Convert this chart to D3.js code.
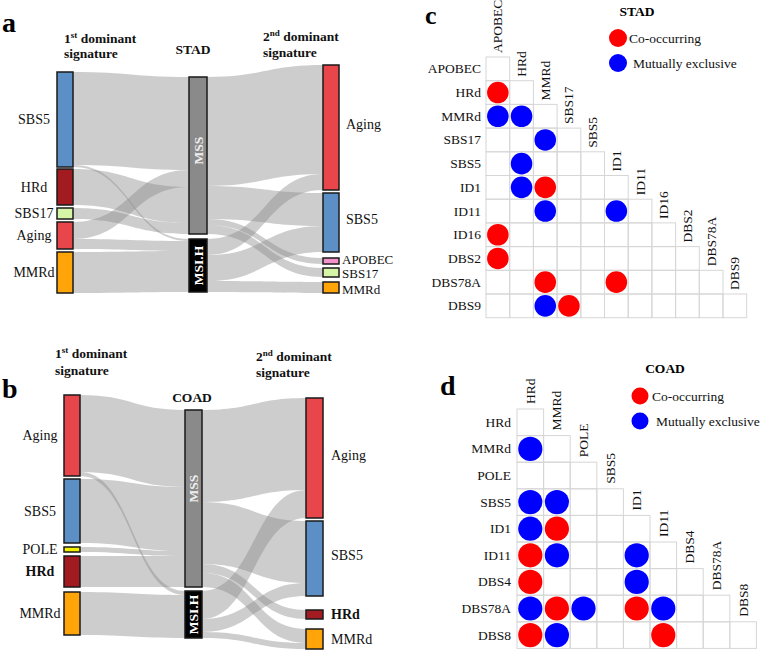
<!DOCTYPE html>
<html><head><meta charset="utf-8">
<script src="https://cdn.jsdelivr.net/npm/d3@7"></script>
<style>
html,body{margin:0;padding:0;background:#fff;overflow:hidden}
svg{display:block;font-family:"Liberation Serif","Times New Roman",Times,serif}
</style></head><body>
<svg id="fig" width="760" height="652"></svg>
<script>
// ================= DATA =================
// Panel a – STAD alluvial
const stadFirst  = ["SBS5","HRd","SBS17","Aging","MMRd"];
const stadStatus = ["MSS","MSI.H"];
const stadSecond = ["Aging","SBS5","APOBEC","SBS17","MMRd"];
// [source, target, samples]
const stadFlowsFirst = [
  ["SBS5","MSS",93],["Aging","MSS",17],["HRd","MSS",36],["SBS17","MSS",11],
  ["SBS5","MSI.H",2],["Aging","MSI.H",10],["MMRd","MSI.H",41]
];
const stadFlowsSecond = [
  ["MSS","Aging",109],["MSI.H","Aging",16],["MSS","SBS5",33],["MSI.H","SBS5",26],
  ["MSS","APOBEC",6],["MSS","SBS17",9],["MSI.H","MMRd",11]
];
// Panel b – COAD alluvial
const coadFirst  = ["Aging","SBS5","POLE","HRd","MMRd"];
const coadStatus = ["MSS","MSI.H"];
const coadSecond = ["Aging","SBS5","HRd","MMRd"];
const coadFlowsFirst = [
  ["Aging","MSS",77],["SBS5","MSS",64],["POLE","MSS",5],["HRd","MSS",31],
  ["Aging","MSI.H",4],["MMRd","MSI.H",43]
];
const coadFlowsSecond = [
  ["MSS","Aging",92],["MSI.H","Aging",28],["MSS","SBS5",62],["MSI.H","SBS5",13],
  ["MSS","HRd",9],["MSS","MMRd",14],["MSI.H","MMRd",6]
];
// Panel c – STAD co-occurrence
const stadSigs = ["APOBEC","HRd","MMRd","SBS17","SBS5","ID1","ID11","ID16","DBS2","DBS78A","DBS9"];
// [row, column, relation]
const stadPairs = [
  ["HRd","APOBEC","co"],
  ["MMRd","APOBEC","me"],["MMRd","HRd","me"],
  ["SBS17","MMRd","me"],
  ["SBS5","HRd","me"],
  ["ID1","HRd","me"],["ID1","MMRd","co"],
  ["ID11","MMRd","me"],["ID11","ID1","me"],
  ["ID16","APOBEC","co"],
  ["DBS2","APOBEC","co"],
  ["DBS78A","MMRd","co"],["DBS78A","ID1","co"],
  ["DBS9","MMRd","me"],["DBS9","SBS17","co"]
];
// Panel d – COAD co-occurrence
const coadSigs = ["HRd","MMRd","POLE","SBS5","ID1","ID11","DBS4","DBS78A","DBS8"];
const coadPairs = [
  ["MMRd","HRd","me"],
  ["SBS5","HRd","me"],["SBS5","MMRd","me"],
  ["ID1","HRd","me"],["ID1","MMRd","co"],
  ["ID11","HRd","co"],["ID11","MMRd","me"],["ID11","ID1","me"],
  ["DBS4","HRd","co"],["DBS4","ID1","me"],
  ["DBS78A","HRd","me"],["DBS78A","MMRd","co"],["DBS78A","POLE","me"],["DBS78A","ID1","co"],["DBS78A","ID11","me"],
  ["DBS8","HRd","co"],["DBS8","MMRd","me"],["DBS8","ID11","co"]
];
const legendLabels = {co:"Co-occurring", me:"Mutually exclusive"};

// ================= STYLE =================
const nodeColors = {SBS5:"#5b8fc6",HRd:"#a11b20",SBS17:"#d5f6a6",Aging:"#e8464b",
  MMRd:"#ffa50a",APOBEC:"#f292ca",POLE:"#f0f000",MSS:"#8a8a8a","MSI.H":"#000"};
const relColor = {co:"#ff0000", me:"#0000ff"};

const svg = d3.select("#fig");

function drawSankey(cols, flows, cfg){
  const g = svg.append("g");
  const ky = d3.scaleLinear().domain([0,1]).range([0,cfg.k]);
  const nodes = [], byId = new Map();
  cols.forEach((names,ci)=>names.forEach(n=>{
    const d={id:ci+":"+n,name:n,col:ci,inV:0,outV:0,ins:[],outs:[]};
    nodes.push(d); byId.set(d.id,d);
  }));
  const links=[];
  flows.forEach((fl,fi)=>fl.forEach(([s,t,v])=>{
    const S=byId.get(fi+":"+s), T=byId.get((fi+1)+":"+t);
    const L={S,T,v}; S.outs.push(L); T.ins.push(L); S.outV+=v; T.inV+=v; links.push(L);
  }));
  cols.forEach((names,ci)=>{
    const c=cfg.cols[ci]; let yy=c.top;
    names.forEach((n,i)=>{
      const d=byId.get(ci+":"+n);
      d.value=Math.max(d.inV,d.outV);
      d.x0=c.x; d.x1=c.x+c.w; d.y0=yy; d.y1=yy+ky(d.value);
      yy=d.y1+(c.gaps[i]||0);
    });
  });
  nodes.forEach(d=>{
    let o=d.y0; d.outs.forEach(L=>{L.sy0=o;o+=ky(L.v);L.sy1=o;});
    let q=d.y0; d.ins.forEach(L=>{L.ty0=q;q+=ky(L.v);L.ty1=q;});
  });
  const band=L=>{
    const x0=L.S.x1, x1=L.T.x0, xm=(x0+x1)/2;
    return `M${x0},${L.sy0}C${xm},${L.sy0} ${xm},${L.ty0} ${x1},${L.ty0}`+
      `L${x1},${L.ty1}C${xm},${L.ty1} ${xm},${L.sy1} ${x0},${L.sy1}Z`;
  };
  g.append("g").selectAll("path").data(links).join("path")
    .attr("d",band).attr("fill","#8a8a8a").attr("fill-opacity",0.43);
  g.append("g").selectAll("rect").data(nodes).join("rect")
    .attr("x",d=>d.x0).attr("y",d=>d.y0).attr("width",d=>d.x1-d.x0).attr("height",d=>d.y1-d.y0)
    .attr("fill",d=>nodeColors[d.name]).attr("stroke","#1a1a1a").attr("stroke-width",1.5);
  // labels
  const lab=g.append("g").attr("font-size",14).attr("fill","#111");
  lab.selectAll("text.l").data(nodes.filter(d=>d.col===0)).join("text")
    .attr("x",cfg.leftLabelX).attr("y",d=>(d.y0+d.y1)/2).attr("text-anchor","middle")
    .attr("dominant-baseline","central").attr("font-weight",d=>cfg.bold.includes(d.name)?"bold":null)
    .text(d=>d.name);
  lab.selectAll("text.r").data(nodes.filter(d=>d.col===2)).join("text")
    .attr("x",d=>d.x1+((d.y1-d.y0)>30?cfg.rightOffBig:cfg.rightOffSmall))
    .attr("y",d=>(d.y0+d.y1)/2+((d.y1-d.y0)>30?-3:(cfg.nudge[d.name]||0)))
    .attr("dominant-baseline","central")
    .attr("font-size",d=>(d.y1-d.y0)>30?14:cfg.smallFont)
    .attr("font-weight",d=>cfg.bold.includes(d.name)?"bold":null).text(d=>d.name);
  lab.selectAll("text.m").data(nodes.filter(d=>d.col===1)).join("text")
    .attr("transform",d=>`translate(${(d.x0+d.x1)/2},${(d.y0+d.y1)/2+(d.name==="MSS"?cfg.mssShift:0)}) rotate(-90)`)
    .attr("text-anchor","middle").attr("dominant-baseline","central").attr("font-weight","bold")
    .attr("font-size",13.5).attr("fill",d=>d.name==="MSS"?"#eeeeee":"#ffffff").text(d=>d.name);
  // headers
  const hd=g.append("g").attr("font-weight","bold").attr("font-size",13.5).attr("fill","#111");
  const two=(x,y1,y2,num,sup)=>{
    const t=hd.append("text").attr("x",x).attr("y",y1);
    t.append("tspan").text(num);
    t.append("tspan").attr("font-size",9).attr("dy",-5).text(sup);
    t.append("tspan").attr("dy",5).text(" dominant");
    hd.append("text").attr("x",x).attr("y",y2).text("signature");
  };
  two(cfg.h1.x,cfg.h1.y1,cfg.h1.y2,"1","st");
  two(cfg.h2.x,cfg.h2.y1,cfg.h2.y2,"2","nd");
  hd.append("text").attr("x",cfg.title.x).attr("y",cfg.title.y).attr("text-anchor","middle").text(cfg.title.text);
  svg.append("text").attr("x",cfg.letter.x).attr("y",cfg.letter.y).attr("font-size",cfg.letter.size)
    .attr("font-weight","bold").text(cfg.letter.t);
}

drawSankey([stadFirst,stadStatus,stadSecond],[stadFlowsFirst,stadFlowsSecond],{
  k:1,
  cols:[{x:57,w:16,top:72,gaps:[2,3,3,3]},{x:189,w:18,top:77,gaps:[5]},{x:323,w:16,top:65,gaps:[3,6,4,5]}],
  leftLabelX:34,rightOffBig:7,rightOffSmall:3,mssShift:-5,bold:[],smallFont:13,
  nudge:{APOBEC:-1.5,SBS17:1,MMRd:1.5},
  h1:{x:64,y1:43,y2:58},h2:{x:263,y1:41,y2:57},title:{x:193,y:54,text:"STAD"},
  letter:{x:2,y:32,t:"a",size:28}
});
drawSankey([coadFirst,coadStatus,coadSecond],[coadFlowsFirst,coadFlowsSecond],{
  k:1,
  cols:[{x:64,w:16,top:395,gaps:[3,4,4,5]},{x:185,w:17,top:410,gaps:[4]},{x:306,w:17,top:398,gaps:[3,14,10]}],
  leftLabelX:40,rightOffBig:8,rightOffSmall:8,mssShift:-10,bold:["HRd"],smallFont:14,nudge:{},
  h1:{x:55,y1:358,y2:375},h2:{x:256,y1:361,y2:377},title:{x:192,y:402,text:"COAD"},
  letter:{x:2,y:398,t:"b",size:28}
});

function drawMatrix(sigs,pairs,cfg){
  const g=svg.append("g");
  const n=sigs.length;
  const xs=d3.scaleBand().domain(sigs).range([cfg.x0,cfg.x0+n*cfg.cell]);
  const ys=d3.scaleBand().domain(sigs).range([cfg.y0,cfg.y0+n*cfg.cell]);
  const cells=[];
  sigs.forEach((r,i)=>sigs.forEach((c,j)=>{if(j<=i)cells.push({r,c});}));
  g.append("g").selectAll("rect").data(cells).join("rect")
    .attr("x",d=>xs(d.c)).attr("y",d=>ys(d.r)).attr("width",xs.bandwidth()).attr("height",ys.bandwidth())
    .attr("fill","none").attr("stroke","#d6d6d6").attr("stroke-width",1);
  const t=g.append("g").attr("font-size",13.5).attr("fill","#111");
  t.selectAll("text.r").data(sigs).join("text")
    .attr("x",cfg.x0-cfg.rowPad).attr("y",d=>ys(d)+ys.bandwidth()/2).attr("text-anchor","end")
    .attr("dominant-baseline","central").text(d=>d);
  t.selectAll("text.c").data(sigs).join("text")
    .attr("transform",d=>`translate(${xs(d)+xs.bandwidth()/2},${ys(d)-cfg.colPad}) rotate(-90)`)
    .attr("dominant-baseline","central").text(d=>d);
  g.append("g").selectAll("circle").data(pairs).join("circle")
    .attr("cx",d=>xs(d[1])+xs.bandwidth()/2).attr("cy",d=>ys(d[0])+ys.bandwidth()/2)
    .attr("r",xs.bandwidth()*0.455).attr("fill",d=>relColor[d[2]]);
  // legend
  const L=cfg.legend;
  g.append("text").attr("x",L.titleX).attr("y",L.titleY).attr("text-anchor","middle")
    .attr("font-weight","bold").attr("font-size",13.5).text(L.title);
  ["co","me"].forEach((k,i)=>{
    g.append("circle").attr("cx",L.cx).attr("cy",L.cy[i]).attr("r",L.r).attr("fill",relColor[k]);
    g.append("text").attr("x",L.tx[i]).attr("y",L.cy[i]).attr("dominant-baseline","central")
      .attr("font-size",13.5).attr("fill","#111").text(legendLabels[k]);
  });
  svg.append("text").attr("x",cfg.letter.x).attr("y",cfg.letter.y).attr("font-size",cfg.letter.size)
    .attr("font-weight","bold").text(cfg.letter.t);
}

drawMatrix(stadSigs,stadPairs,{x0:486,y0:57,cell:23.7,rowPad:5,colPad:4,
  legend:{title:"STAD",titleX:637,titleY:16,cx:618,cy:[38,63],r:9,tx:[629,633]},
  letter:{x:425,y:24,t:"c",size:26}});
drawMatrix(coadSigs,coadPairs,{x0:517,y0:409,cell:26.6,rowPad:6,colPad:5,
  legend:{title:"COAD",titleX:665,titleY:373,cx:640,cy:[396,421],r:8.5,tx:[652,656]},
  letter:{x:440,y:395,t:"d",size:28}});
</script>
</body></html>
